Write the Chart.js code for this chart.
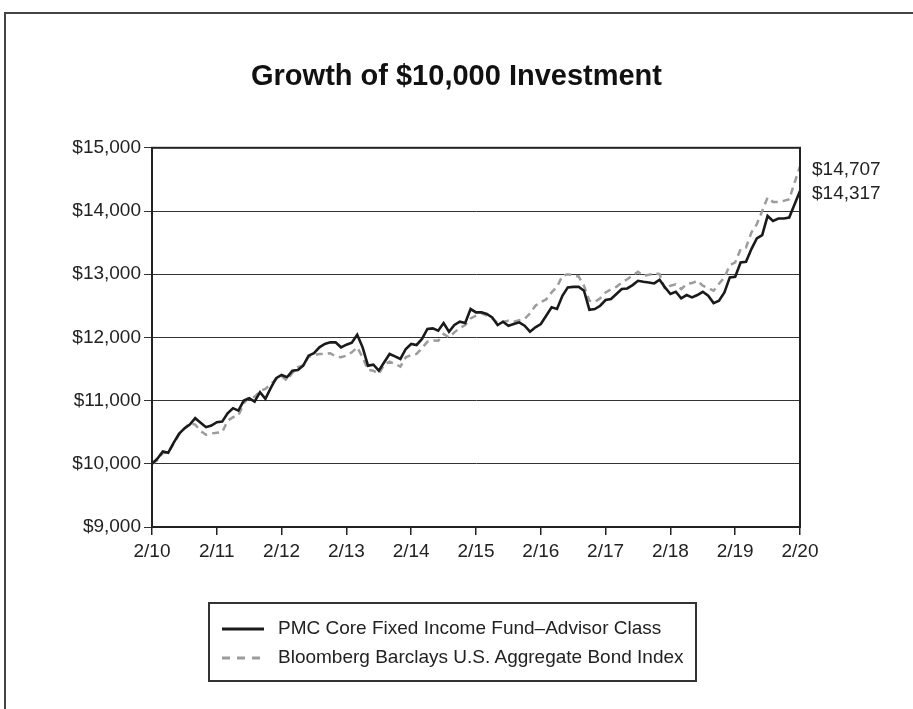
<!DOCTYPE html>
<html>
<head>
<meta charset="utf-8">
<script src="https://cdn.jsdelivr.net/npm/chart.js@4.4.1/dist/chart.umd.min.js"></script>
<style>
  html, body { margin: 0; padding: 0; background: #fff; }
  body { width: 913px; height: 709px; position: relative; overflow: hidden; font-family: "Liberation Sans", Arial, sans-serif; }
  #frame { position: absolute; left: 4px; top: 12px; width: 920px; height: 700px; border-top: 2px solid #444; border-left: 2px solid #444; }
  #grafico { position: absolute; left: 0; top: 0; }
  #legenda { position: absolute; left: 208px; top: 602px; width: 489px; height: 80px; box-sizing: border-box;
             border: 2px solid #333; padding: 9px 0 0 12px; }
  .item { height: 29px; line-height: 29px; font-size: 19px; color: #222; white-space: nowrap; }
  .item svg { vertical-align: middle; margin-right: 14px; }
</style>
</head>
<body>
<div id="frame"></div>
<canvas id="grafico" width="913" height="709"></canvas>
<div id="legenda"></div>
<script>
// fundo PMC (linha sólida), mensal de 2/10 até 2/20
const fundo = [
  10000, 10080, 10195, 10174, 10330, 10474, 10560, 10620, 10722, 10650, 10580, 10605,
  10658, 10668, 10800, 10880, 10842, 11000, 11038, 10984, 11133, 11027, 11200, 11354,
  11406, 11370, 11474, 11485, 11553, 11711, 11750, 11843, 11896, 11922, 11922, 11843,
  11885, 11916, 12043, 11843, 11553, 11568, 11474, 11606, 11738, 11700, 11659, 11817,
  11896, 11880, 11975, 12133, 12143, 12106, 12227, 12090, 12196, 12248, 12227, 12449,
  12396, 12396, 12370, 12317, 12196, 12248, 12185, 12212, 12238, 12185, 12090, 12160,
  12212, 12343, 12475, 12449, 12659, 12791, 12800, 12801, 12738, 12438, 12449, 12501,
  12591, 12607, 12686, 12765, 12775, 12828, 12896, 12880, 12868, 12854, 12912, 12791,
  12686, 12722, 12617, 12670, 12633, 12670, 12722, 12659, 12543, 12580, 12712, 12949,
  12959, 13186, 13196, 13397, 13565, 13618, 13922, 13843, 13881, 13881, 13897, 14107,
  14317
];
// índice Bloomberg Barclays (tracejado)
const indice = [
  10000, 10060, 10170, 10180, 10320, 10460, 10560, 10640, 10620, 10520, 10460, 10480,
  10490, 10500, 10680, 10737, 10763, 10960, 11050, 11060, 11150, 11185, 11260, 11340,
  11390, 11316, 11440, 11527, 11560, 11695, 11720, 11738, 11738, 11750, 11700, 11685,
  11711, 11764, 11843, 11685, 11485, 11474, 11422, 11570, 11616, 11580, 11537, 11685,
  11722, 11738, 11830, 11932, 11950, 11948, 12054, 12000, 12080, 12150, 12196, 12300,
  12343, 12380, 12350, 12300, 12230, 12248, 12264, 12250, 12270, 12290, 12380, 12501,
  12560, 12600, 12712, 12800, 12975, 13000, 12980, 12964, 12817, 12580, 12560, 12620,
  12712, 12760, 12800, 12870, 12920, 12980, 13038, 12975, 12990, 13017, 13000, 12765,
  12817, 12840, 12765, 12844, 12860, 12896, 12817, 12780, 12738, 12850, 12949, 13144,
  13186, 13397, 13423, 13660, 13791, 14000, 14213, 14144, 14144, 14160, 14186, 14450,
  14707
];
const anos = ["10", "11", "12", "13", "14", "15", "16", "17", "18", "19", "20"];
const nomes = ["PMC Core Fixed Income Fund\u2013Advisor Class", "Bloomberg Barclays U.S. Aggregate Bond Index"];
const finais = ["$14,317", "$14,707"];

// rótulos mensais m/aa, começando em fevereiro
let meses = [];
for (let i = 0; i < fundo.length; i++) {
  let m = ((i + 1) % 12) + 1;
  let a = anos[Math.floor((i + 1) / 12)];
  meses.push(m + "/" + a);
}

const fonte = "'Liberation Sans', Arial, sans-serif";

const moldura = {
  id: "moldura",
  afterDatasetsDraw(chart) {
    const { ctx, chartArea: a, scales } = chart;
    ctx.save();
    ctx.strokeStyle = "#222";
    ctx.lineWidth = 2;
    ctx.strokeRect(a.left, a.top, a.right - a.left, a.bottom - a.top);
    ctx.fillStyle = "#222";
    ctx.font = "19px " + fonte;
    ctx.textBaseline = "middle";
    chart.data.datasets.forEach((ds, i) => {
      let v = ds.data[ds.data.length - 1];
      ctx.fillText(finais[i], a.right + 12, scales.y.getPixelForValue(v) + 3);
    });
    ctx.restore();
  },
};

let grafico = new Chart(document.getElementById("grafico"), {
  type: "line",
  data: {
    labels: meses,
    datasets: [
      { label: nomes[0], data: fundo, borderColor: "#1a1a1a", borderWidth: 2.6, pointRadius: 0, tension: 0, fill: false },
      { label: nomes[1], data: indice, borderColor: "#9c9c9c", borderWidth: 2.5, borderDash: [7, 5], pointRadius: 0, tension: 0, fill: false },
    ],
  },
  options: {
    responsive: false,
    animation: false,
    devicePixelRatio: 1,
    layout: { padding: { left: 0, right: 0, top: 0, bottom: 142 } },
    plugins: {
      legend: { display: false },
      tooltip: { enabled: false },
      title: {
        display: true,
        text: "Growth of $10,000 Investment",
        color: "#111",
        font: { family: fonte, size: 29, weight: "bold" },
        padding: { top: 60, bottom: 53 },
      },
    },
    scales: {
      x: {
        offset: false,
        grid: {
          drawOnChartArea: false,
          drawTicks: true,
          tickLength: 8,
          lineWidth: 1.5,
          color: (c) => (c.index % 12 === 0 ? "#222" : "rgba(0,0,0,0)"),
        },
        border: { display: true, color: "#222", width: 2 },
        ticks: {
          autoSkip: false,
          maxRotation: 0,
          padding: 5,
          color: "#222",
          font: { family: fonte, size: 19 },
          callback: (v, i) => (i % 12 === 0 ? meses[i] : ""),
        },
        afterFit: (s) => { s.height = 40; },
      },
      y: {
        min: 9000,
        max: 15000,
        grid: { color: "#333", lineWidth: 1, tickLength: 8 },
        border: { display: true, color: "#222", width: 2 },
        ticks: {
          stepSize: 1000,
          padding: 3,
          color: "#222",
          font: { family: fonte, size: 19 },
          callback: (v) => "$" + v.toLocaleString("en-US"),
        },
        afterFit: (s) => { s.width = 152; },
      },
      y2: {
        position: "right",
        grid: { display: false },
        border: { display: false },
        ticks: { display: false },
        afterFit: (s) => { s.width = 113; },
      },
    },
  },
  plugins: [moldura],
});

// legenda em html, com os nomes das séries
let leg = document.getElementById("legenda");
grafico.data.datasets.forEach((ds) => {
  let dash = ds.borderDash ? 'stroke-dasharray="8 7"' : "";
  leg.insertAdjacentHTML("beforeend",
    '<div class="item"><svg width="42" height="6"><line x1="0" y1="3" x2="42" y2="3" stroke="' +
    ds.borderColor + '" stroke-width="3" ' + dash + '/></svg>' + ds.label + "</div>");
});
</script>
</body>
</html>
